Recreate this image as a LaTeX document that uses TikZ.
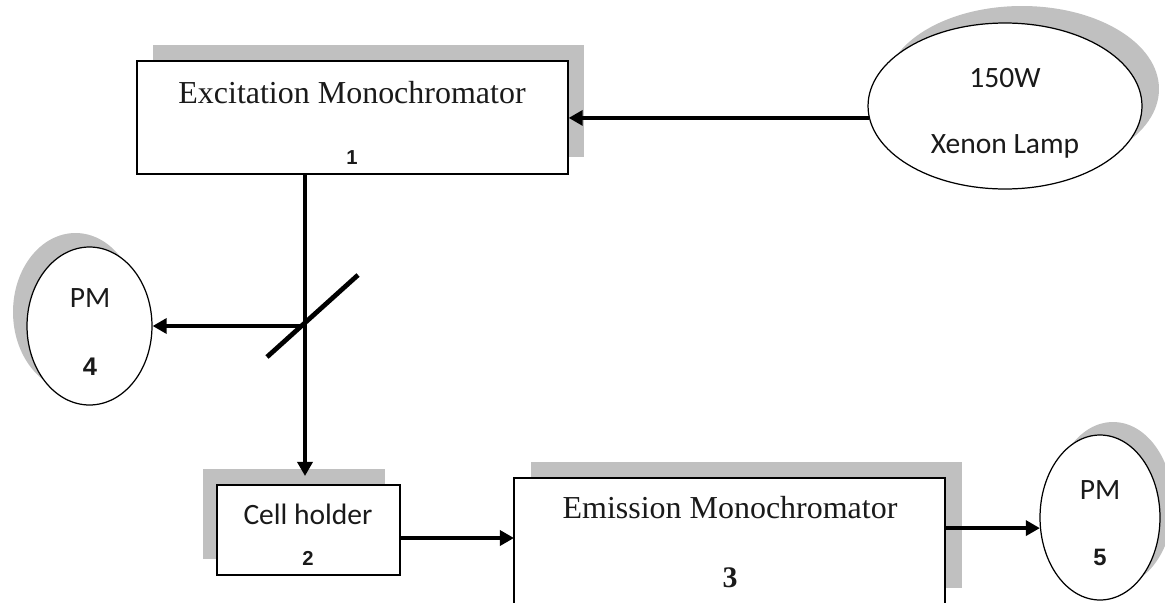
\documentclass[tikz,border=0pt]{standalone}
\usepackage{fontspec}
\setmainfont{Liberation Serif}
\newfontfamily\calfont{Carlito}
\newfontfamily\numfont{Liberation Sans}
\usetikzlibrary{arrows.meta,shapes.geometric,calc}
\definecolor{shade}{HTML}{C0C0C0}
\definecolor{ink}{HTML}{1A1A1A}
\tikzset{
  shadowbox/.style={rectangle,fill=shade,draw=none,inner sep=0pt},
  boxnode/.style={rectangle,fill=white,draw=black,line width=0.8pt,inner sep=0pt},
  shadowell/.style={ellipse,fill=shade,draw=none,inner sep=0pt},
  ellnode/.style={ellipse,fill=white,draw=black,line width=0.7pt,inner sep=0pt},
  seriftext/.style={font=\fontsize{18.2}{21}\selectfont,text=ink,inner sep=0pt},
  sanstext/.style={font=\calfont\fontsize{16.8}{19}\selectfont,text=ink,inner sep=0pt},
  numtext/.style={font=\numfont\bfseries\fontsize{14.5}{16}\selectfont,text=ink,inner sep=0pt},
  smallnum/.style={font=\numfont\bfseries\fontsize{11.5}{13}\selectfont,text=ink,inner sep=0pt},
  beam/.style={line width=2.7pt,draw=black},
  arr/.style={beam,-{Triangle[length=8pt,width=8.5pt]}}
}
\begin{document}
\begin{tikzpicture}[x=0.02cm,y=-0.02cm]
\useasboundingbox[fill=white] (0,0) rectangle (1165,602);
% shadows
\node[shadowbox,minimum width=8.62cm,minimum height=2.26cm] (excsh) at (368.5,101) {};
\node[shadowbox,minimum width=3.66cm,minimum height=1.8cm] (cellsh) at (294,513.5) {};
\node[shadowbox,minimum width=8.62cm,minimum height=2.52cm] (emsh) at (746.5,524.5) {};
\node[shadowell,minimum width=5.48cm,minimum height=3.32cm] (lampsh) at (1022,89) {};
\node[shadowell,minimum width=2.5cm,minimum height=3.16cm] (pmfoursh) at (75.5,312) {};
\node[shadowell,minimum width=2.4cm,minimum height=3.3cm] (pmfivesh) at (1113,504.5) {};
% main shapes
\node[boxnode,minimum width=8.62cm,minimum height=2.26cm] (exc) at (352.5,117.5) {};
\node[boxnode,minimum width=3.66cm,minimum height=1.8cm] (cell) at (308.5,530) {};
\node[boxnode,minimum width=8.62cm,minimum height=2.52cm] (em) at (729.5,541) {};
\node[ellnode,minimum width=5.48cm,minimum height=3.32cm] (lamp) at (1005,106) {};
\node[ellnode,minimum width=2.5cm,minimum height=3.16cm] (pmfour) at (89.5,326) {};
\node[ellnode,minimum width=2.4cm,minimum height=3.3cm] (pmfive) at (1100,517.5) {};
% texts
\node[seriftext] (exct) at (352,93) {Excitation Monochromator};
\node[smallnum] (excn) at (352,158) {1};
\node[sanstext] (lampa) at (1005,78) {150W};
\node[sanstext] (lampb) at (1005,146) {Xenon Lamp};
\node[sanstext] (pmfourt) at (90,298) {PM};
\node[numtext] (pmfourn) at (90,367) {4};
\node[sanstext] (cellt) at (308,514) {Cell holder};
\node[smallnum] (celln) at (308,558) {2};
\node[seriftext] (emt) at (730,508) {Emission Monochromator};
\node[seriftext,font=\bfseries\fontsize{17}{20}\selectfont] (emn) at (730,578) {3};
\node[sanstext] (pmfivet) at (1100,490) {PM};
\node[numtext,font=\numfont\bfseries\fontsize{13.5}{15}\selectfont] (pmfiven) at (1100,557) {5};
% beam path
\coordinate (split) at (305,326);
\coordinate (cin) at (305,476);
\coordinate (ma) at (267,357);
\coordinate (mb) at (358,275);
\coordinate (cout) at (400,538);
\coordinate (emin) at (514,538);
\draw[arr] (lamp.185.5) -- (lamp.185.5 -| exc.east);
\draw[arr] (split |- exc.south) -- (cin);
\draw[beam] (ma) -- (mb);
\draw[arr] (split) -- (pmfour.east);
\draw[arr] (cout) -- (emin);
\draw[arr] (pmfive.190 -| em.east) -- (pmfive.190);
\end{tikzpicture}
\end{document}
